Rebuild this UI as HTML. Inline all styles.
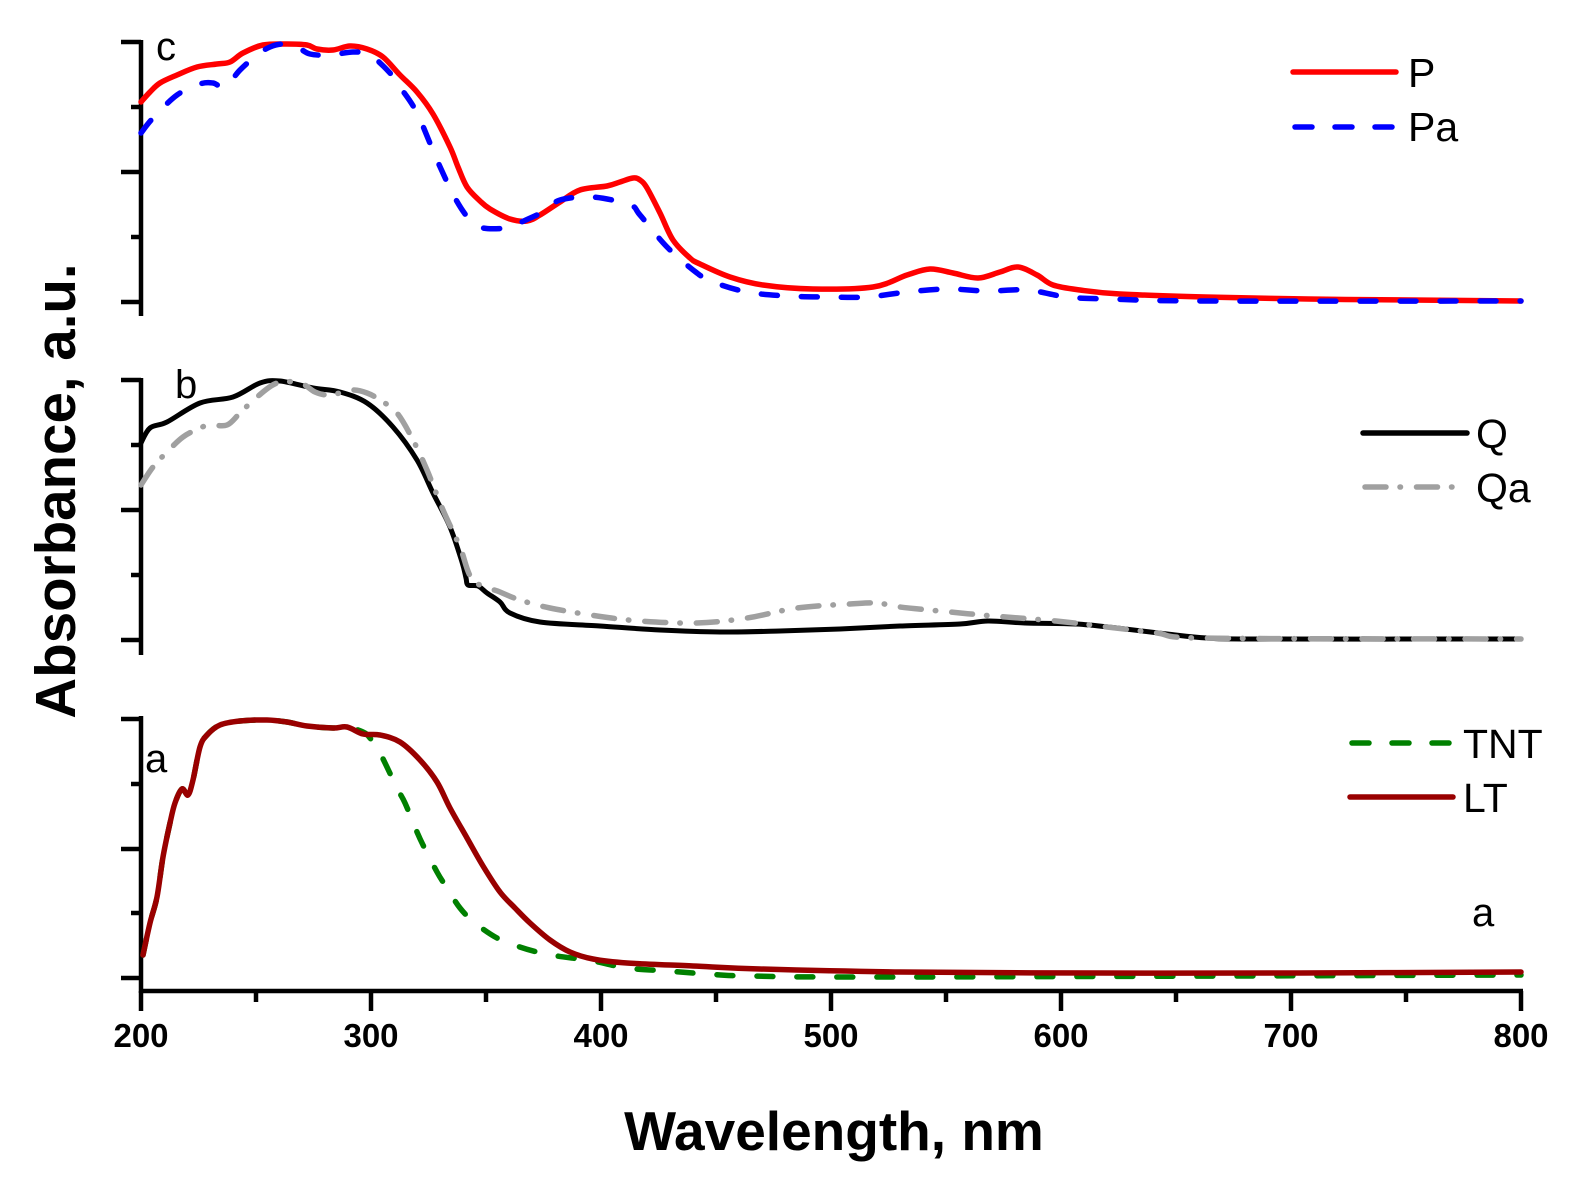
<!DOCTYPE html>
<html>
<head>
<meta charset="utf-8">
<style>
html,body{margin:0;padding:0;background:#fff;}
svg{display:block;}
text{font-family:"Liberation Sans",Arial,sans-serif;}
</style>
</head>
<body>
<svg id="chart" width="1577" height="1179" viewBox="0 0 1577 1179" xmlns="http://www.w3.org/2000/svg">
<rect width="1577" height="1179" fill="#fff"/>

<!-- Axes -->
<g stroke="#000" stroke-width="4.5" fill="none" stroke-linecap="butt">
  <!-- panel c -->
  <line x1="141" y1="40" x2="141" y2="316"/>
  <line x1="121" y1="42" x2="141" y2="42"/>
  <line x1="131" y1="107" x2="141" y2="107"/>
  <line x1="121" y1="172" x2="141" y2="172"/>
  <line x1="131" y1="237" x2="141" y2="237"/>
  <line x1="121" y1="302" x2="141" y2="302"/>
  <!-- panel b -->
  <line x1="141" y1="378" x2="141" y2="655"/>
  <line x1="121" y1="380" x2="141" y2="380"/>
  <line x1="131" y1="445" x2="141" y2="445"/>
  <line x1="121" y1="510" x2="141" y2="510"/>
  <line x1="131" y1="575" x2="141" y2="575"/>
  <line x1="121" y1="640" x2="141" y2="640"/>
  <!-- panel a -->
  <line x1="141" y1="716" x2="141" y2="993"/>
  <line x1="121" y1="719" x2="141" y2="719"/>
  <line x1="131" y1="784" x2="141" y2="784"/>
  <line x1="121" y1="849" x2="141" y2="849"/>
  <line x1="131" y1="913" x2="141" y2="913"/>
  <line x1="121" y1="978" x2="141" y2="978"/>
  <!-- x axis -->
  <line x1="139" y1="991" x2="1523" y2="991"/>
  <line x1="141" y1="991" x2="141" y2="1011"/>
  <line x1="256" y1="991" x2="256" y2="1002"/>
  <line x1="371" y1="991" x2="371" y2="1011"/>
  <line x1="486" y1="991" x2="486" y2="1002"/>
  <line x1="601" y1="991" x2="601" y2="1011"/>
  <line x1="716" y1="991" x2="716" y2="1002"/>
  <line x1="831" y1="991" x2="831" y2="1011"/>
  <line x1="946" y1="991" x2="946" y2="1002"/>
  <line x1="1061" y1="991" x2="1061" y2="1011"/>
  <line x1="1176" y1="991" x2="1176" y2="1002"/>
  <line x1="1291" y1="991" x2="1291" y2="1011"/>
  <line x1="1406" y1="991" x2="1406" y2="1002"/>
  <line x1="1521" y1="991" x2="1521" y2="1011"/>
</g>

<!-- X tick labels -->
<g font-size="33" font-weight="bold" text-anchor="middle" fill="#000">
  <text x="141" y="1047">200</text>
  <text x="371" y="1047">300</text>
  <text x="601" y="1047">400</text>
  <text x="831" y="1047">500</text>
  <text x="1061" y="1047">600</text>
  <text x="1291" y="1047">700</text>
  <text x="1521" y="1047">800</text>
</g>

<!-- Axis titles -->
<text x="834" y="1150" font-size="55" font-weight="bold" text-anchor="middle" fill="#000">Wavelength, nm</text>
<text transform="translate(75,491) rotate(-90)" font-size="56.5" font-weight="bold" text-anchor="middle" fill="#000">Absorbance, a.u.</text>

<!-- Panel labels -->
<g font-size="40" fill="#000">
  <text x="156" y="60">c</text>
  <text x="175" y="398">b</text>
  <text x="145" y="772">a</text>
  <text x="1472" y="926">a</text>
</g>

<!-- Panel c curves -->
<g fill="none" stroke-width="5.5" stroke-linejoin="round" stroke-linecap="round">
  <polyline class="s" stroke="#ff0000" points="141,102 150,92 160,83 177,75 197,67 217,64 230,62 243,53 263,45 287,44 307,45 317,49 333,50 350,46 367,49 383,57 400,75 417,92 433,114 450,147 458,167 467,187 480,201 490,209 510,219 527,221 540,215 560,202 580,190 607,186 620,182 633,178 640,180 647,188 660,213 673,240 690,258 700,264 730,277 763,285 813,289 873,287 907,275 930,269 953,273 978,278 1000,272 1018,267 1037,275 1053,285 1080,290 1120,294 1205,297 1308,299 1410,300 1521,301"/>
  <polyline class="s" stroke="#0000ff" stroke-dasharray="16 24" points="141,133 153,118 177,95 200,84 213,83 225,87 240,70 257,55 270,47 283,44 297,47 310,54 330,55 353,52 370,55 390,73 400,87 417,113 437,160 455,198 470,220 483,228 507,228 517,224 547,210 560,200 593,197 630,205 640,215 667,247 697,273 713,282 747,292 787,296 827,297 867,297 907,292 947,289 987,291 1027,290 1067,297 1110,299 1205,301 1521,301"/>
</g>

<!-- Panel b curves -->
<g fill="none" stroke-width="5.5" stroke-linejoin="round" stroke-linecap="round">
  <polyline class="s" stroke="#000000" stroke-width="5" points="141,443 150,428 167,422 200,403 233,397 260,383 280,381 313,388 340,392 367,403 393,427 417,460 433,493 450,527 462,562 466,578 468,585 478,586 487,593 500,602 510,613 540,622 600,626 660,630 720,632 780,631 840,629 900,626 960,624 988,621 1025,623 1076,624 1117,628 1167,634 1207,638 1258,639 1521,639"/>
  <polyline class="s" stroke="#a0a0a0" stroke-dasharray="21 14 0.5 16" points="141,485 153,467 167,452 183,437 200,428 210,425 227,425 240,413 257,397 277,383 300,383 315,392 327,395 340,393 353,390 367,393 380,400 397,413 413,440 427,470 443,510 460,547 473,580 500,592 520,600 550,608 597,616 640,621 697,623 747,618 797,608 850,604 877,603 900,607 950,612 993,616 1056,621 1107,627 1157,633 1197,638 1521,639"/>
</g>

<!-- Panel a curves -->
<g fill="none" stroke-width="5.5" stroke-linejoin="round" stroke-linecap="round">
  <polyline class="s" stroke="#008000" stroke-dasharray="16 24" points="143,955 150,923 157,897 163,857 170,823 175,803 182,789 188,795 193,780 200,747 207,735 220,725 240,721 267,720 287,722 307,726 333,728 347,727 363,732 370,738 380,753 397,788 405,803 417,832 423,845 437,872 445,885 460,908 475,923 497,938 517,946 537,952 557,956 593,961 627,968 667,971 707,974 750,976 900,977 1521,975"/>
  <polyline class="s" stroke="#990000" points="143,955 150,923 157,897 163,857 170,823 175,803 182,789 188,795 193,780 200,747 207,735 220,725 240,721 267,720 287,722 307,726 333,728 347,727 363,734 380,735 400,742 420,760 437,782 450,808 467,838 483,866 500,892 515,908 530,923 550,940 570,952 593,959 627,963 693,966 760,969 900,972 1100,973 1300,973 1521,972"/>
</g>

<!-- Legends -->
<g fill="none" stroke-width="5.5" stroke-linecap="round">
  <line x1="1293" y1="72" x2="1396" y2="72" stroke="#ff0000"/>
  <line x1="1295" y1="127" x2="1396" y2="127" stroke="#0000ff" stroke-dasharray="17 23"/>
  <line x1="1363" y1="433" x2="1467" y2="433" stroke="#000000"/>
  <line x1="1365" y1="487" x2="1458" y2="487" stroke="#a0a0a0" stroke-dasharray="21 14 0.5 16"/>
  <line x1="1352" y1="743" x2="1453" y2="743" stroke="#008000" stroke-dasharray="17 23"/>
  <line x1="1350" y1="797" x2="1453" y2="797" stroke="#990000"/>
</g>
<g font-size="41" fill="#000">
  <text x="1408" y="87">P</text>
  <text x="1408" y="141">Pa</text>
  <text x="1476" y="448">Q</text>
  <text x="1476" y="502">Qa</text>
  <text x="1463" y="758">TNT</text>
  <text x="1463" y="812">LT</text>
</g>
</svg>
<script>
(function(){
  var NS="http://www.w3.org/2000/svg";
  var pls=document.querySelectorAll('polyline.s');
  for(var k=0;k<pls.length;k++){
    var pl=pls[k];
    var pts=pl.getAttribute('points').trim().split(/\s+/).map(function(p){return p.split(',').map(Number);});
    var d='M'+pts[0][0]+','+pts[0][1];
    for(var i=0;i<pts.length-1;i++){
      var p0=pts[i-1]||pts[i],p1=pts[i],p2=pts[i+1],p3=pts[i+2]||p2;
      var t=6;
      var c1x=p1[0]+(p2[0]-p0[0])/t,c1y=p1[1]+(p2[1]-p0[1])/t;
      var c2x=p2[0]-(p3[0]-p1[0])/t,c2y=p2[1]-(p3[1]-p1[1])/t;
      var lo=Math.min(p1[0],p2[0]),hi=Math.max(p1[0],p2[0]);
      c1x=Math.max(lo,Math.min(hi,c1x));c2x=Math.max(lo,Math.min(hi,c2x));
      d+=' C'+c1x.toFixed(2)+','+c1y.toFixed(2)+' '+c2x.toFixed(2)+','+c2y.toFixed(2)+' '+p2[0]+','+p2[1];
    }
    var path=document.createElementNS(NS,'path');
    for(var a=0;a<pl.attributes.length;a++){
      var at=pl.attributes[a];
      if(at.name!=='points'&&at.name!=='class')path.setAttribute(at.name,at.value);
    }
    path.setAttribute('d',d);
    pl.parentNode.replaceChild(path,pl);
  }
})();
</script>
</body>
</html>
